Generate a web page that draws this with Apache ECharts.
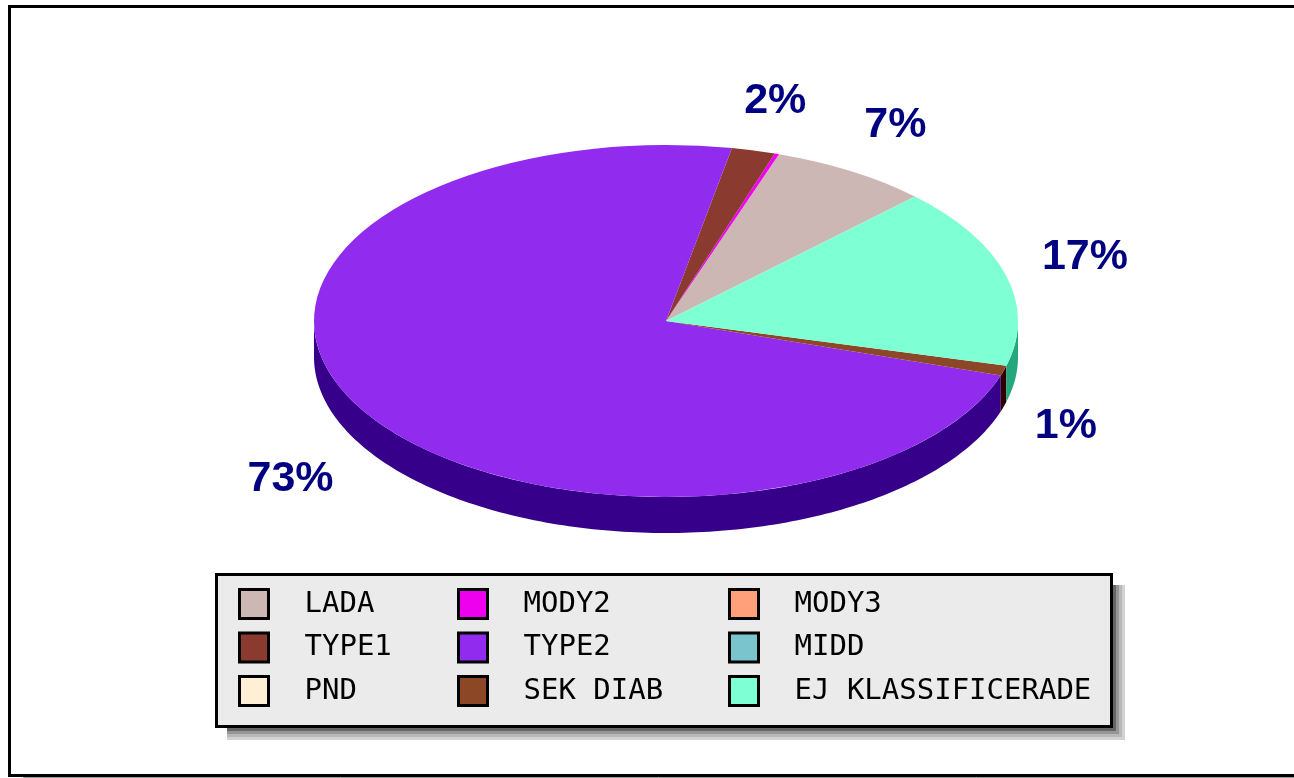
<!DOCTYPE html>
<html>
<head>
<meta charset="utf-8">
<title>Diabetes types</title>
<script src="https://cdn.jsdelivr.net/npm/echarts@6/dist/echarts.min.js"></script>
<style>
html, body { margin: 0; padding: 0; background: #fff; overflow: hidden; }
#main { width: 1294px; height: 778px; }
</style>
</head>
<body>
<div id="main"></div>
<script>
// share of each group in percent, in legend order (counter clockwise on the pie)
const categories = ['LADA', 'MODY2', 'MODY3', 'TYPE1', 'TYPE2', 'MIDD', 'PND', 'SEK DIAB', 'EJ KLASSIFICERADE'];
const shares = [7.3, 0.2, 0, 2.0, 73.0, 0, 0, 0.9, 16.6];
const topColors = ['#cdb7b5', '#ee00ee', '#ffa07a', '#8b3a2f', '#912cee', '#7ac5cd', '#ffefd5', '#8b4726', '#7fffd4'];
const sideColors = ['#7d6f6e', '#8b008b', '#a0634b', '#4f1f18', '#36008b', '#4a7a80', '#a09682', '#2f0000', '#22a87c'];

// pie shape
const cx = 666, cy = 321, rx = 352, ry = 176, depth = 36;
const startDeg = 45;
const labelRx = 392, labelRy = 231, labelSize = 43;
// small hand corrections of the label spots, by slice
const labelNudge = { 0: [6, 0], 3: [4, 4], 4: [-1, 5], 7: [-6, 4], 8: [-1, -4] };

const total = shares.reduce((a, b) => a + b, 0);

function rad(deg) {
    return deg * Math.PI / 180;
}

// angle where the slice i begins, counted from the first slice
function sliceStart(i) {
    let sum = 0;
    for (let k = 0; k < i; k++) sum += shares[k];
    return startDeg + sum / total * 360;
}

// side wall of the part of the slice facing the viewer
function wallPoints(from, to) {
    let a = Math.max(from, 180), b = Math.min(to, 360);
    let a2 = Math.max(from, 540), b2 = Math.min(to, 720);
    if (a2 < b2) { a = a2; b = b2; }
    if (a >= b) return null;
    let upper = [], lower = [];
    for (let d = a; ; d += 1) {
        let deg = Math.min(d, b);
        let x = cx + rx * Math.cos(rad(deg));
        let y = cy - ry * Math.sin(rad(deg));
        upper.push([x, y]);
        lower.unshift([x, y + depth]);
        if (deg === b) break;
    }
    return upper.concat(lower);
}

function renderSlice(i) {
    return function (params, api) {
        let value = api.value(0);
        if (!value) return;
        let from = sliceStart(i);
        let to = from + value / total * 360;
        let mid = rad((from + to) / 2);
        let children = [];

        // a slice can run past 360 degrees, so check both turns
        let walls = [wallPoints(from, Math.min(to, 360)), wallPoints(Math.max(from, 360), to)];
        walls.forEach(function (points) {
            if (points) {
                children.push({ type: 'polygon', shape: { points: points }, style: { fill: sideColors[i] } });
            }
        });

        children.push({
            type: 'sector',
            x: cx,
            y: cy,
            scaleY: ry / rx,
            shape: { cx: 0, cy: 0, r0: 0, r: rx, startAngle: -rad(from), endAngle: -rad(to), clockwise: false },
            style: { fill: topColors[i] }
        });

        // the smallest slices have no label
        if (value / total >= 0.005) {
            let text = Math.round(value / total * 100) + '%';
            let digits = text.length - 1;
            let width = (digits * 0.556 + 0.889) * labelSize;
            let nudge = labelNudge[i] || [0, 0];
            let x = cx + (labelRx + width / 2) * Math.cos(mid) + nudge[0];
            let y = cy - labelRy * Math.sin(mid) + (Math.sin(mid) < 0 ? depth : 0) + nudge[1];
            children.push({
                type: 'text',
                x: x,
                y: y,
                style: {
                    text: text,
                    fill: '#000080',
                    font: 'bold ' + labelSize + 'px "Liberation Sans", Arial, sans-serif',
                    align: 'center',
                    verticalAlign: 'middle'
                }
            });
        }
        return { type: 'group', children: children };
    };
}

function legendColumn(names, left) {
    return {
        orient: 'vertical',
        left: left,
        top: 588,
        padding: 0,
        itemWidth: 29,
        itemHeight: 29,
        itemGap: 11.5,
        selectedMode: false,
        icon: 'rect',
        data: names,
        itemStyle: { borderColor: '#000', borderWidth: 3 },
        textStyle: {
            color: '#000',
            fontFamily: '"DejaVu Sans Mono", monospace',
            fontSize: 29,
            lineHeight: 29,
            padding: [0, 0, 0, 31]
        }
    };
}

let chart = echarts.init(document.getElementById('main'), null, { renderer: 'canvas' });

chart.setOption({
    animation: false,
    backgroundColor: '#fff',
    tooltip: { show: false },
    legend: [
        legendColumn([categories[0], categories[3], categories[6]], 238),
        legendColumn([categories[1], categories[4], categories[7]], 457),
        legendColumn([categories[2], categories[5], categories[8]], 728)
    ],
    series: categories.map(function (name, i) {
        return {
            type: 'custom',
            name: name,
            coordinateSystem: 'none',
            silent: true,
            itemStyle: { color: topColors[i] },
            data: [shares[i]],
            renderItem: renderSlice(i)
        };
    }),
    graphic: [
        // page frame, open to the right
        { type: 'line', shape: { x1: 9.5, y1: 6.5, x2: 1294, y2: 6.5 }, style: { stroke: '#000', lineWidth: 3 } },
        { type: 'line', shape: { x1: 9.5, y1: 5, x2: 9.5, y2: 776 }, style: { stroke: '#000', lineWidth: 3 } },
        { type: 'line', shape: { x1: 8, y1: 775.5, x2: 1294, y2: 775.5 }, style: { stroke: '#000', lineWidth: 3 } },
        { type: 'line', shape: { x1: 23, y1: 777.5, x2: 1294, y2: 777.5 }, style: { stroke: '#999', lineWidth: 1 } },
        // legend box with its stepped shadow
        { type: 'rect', shape: { x: 227, y: 585, width: 898, height: 155 }, style: { fill: '#d2d2d2' } },
        { type: 'rect', shape: { x: 227, y: 585, width: 895, height: 152 }, style: { fill: '#b8b8b8' } },
        { type: 'rect', shape: { x: 227, y: 585, width: 892, height: 149 }, style: { fill: '#969696' } },
        { type: 'rect', shape: { x: 227, y: 585, width: 889, height: 146 }, style: { fill: '#666' } },
        { type: 'rect', shape: { x: 216.5, y: 574.5, width: 895, height: 152 }, style: { fill: '#ebebeb', stroke: '#000', lineWidth: 3 } }
    ]
});
</script>
</body>
</html>
